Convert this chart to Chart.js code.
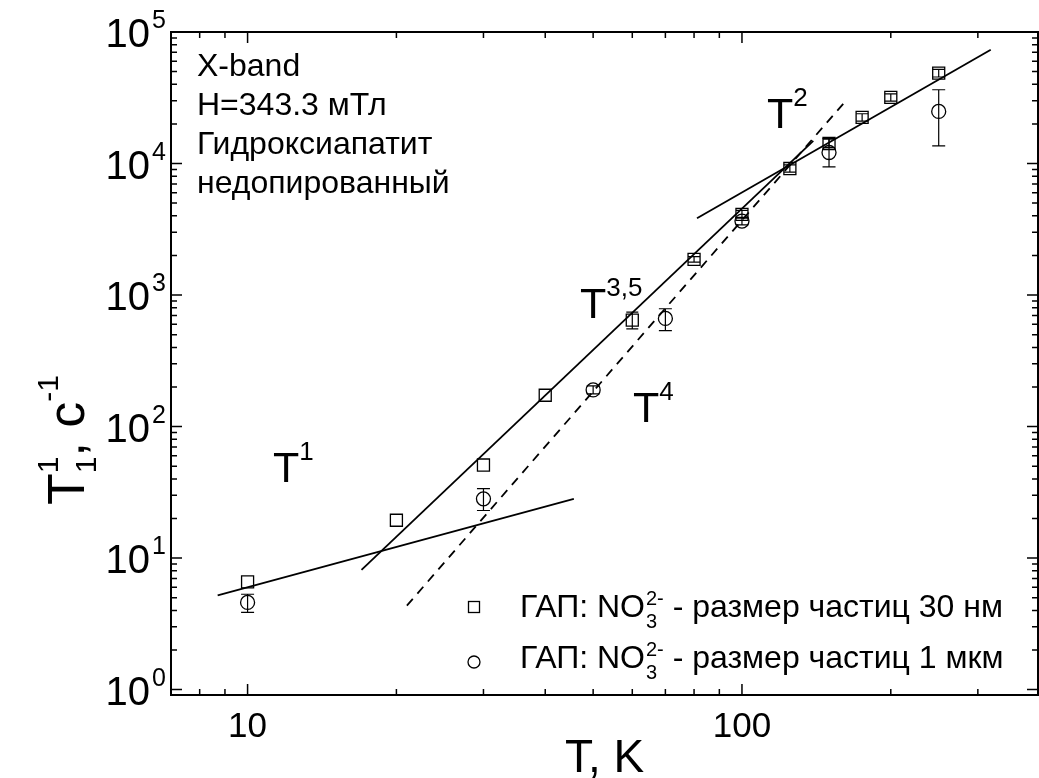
<!DOCTYPE html>
<html>
<head>
<meta charset="utf-8">
<script src="https://cdn.jsdelivr.net/npm/chart.js@4.4.1/dist/chart.umd.min.js"></script>
<style>
  body { margin: 0; background: #fff; }
  #wrap { width: 1039px; height: 778px; }
</style>
</head>
<body>
<div id="wrap"><canvas id="relaxChart" width="1039" height="778"></canvas></div>
<script>
// 30 nm particles (squares)
const temps30 = [10, 20, 30, 40, 60, 80, 100, 125, 150, 175, 200, 250];
const rate30 = [6.6, 19.4, 51, 173, 644, 1866, 4110, 9160, 14200, 22400, 31800, 48700];
const errLow30 = [null, null, null, null, 554, 1780, 3850, 8600, 13200, 21000, 29800, 45500];
const errHigh30 = [null, null, null, null, 741, 1960, 4400, 9750, 15300, 23900, 33900, 52000];

// 1 um particles (circles)
const temps1um = [10, 30, 50, 70, 100, 150, 250];
const rate1um = [4.6, 28.2, 190, 664, 3650, 12130, 24900];
const errLow1um = [3.87, 23.0, 177, 537, 3420, 9420, 13600];
const errHigh1um = [5.31, 33.7, 204, 787, 3900, 15500, 36400];

// power-law guide lines (end points)
const fitT1 = { t: [8.7, 45.7], r: [5.2, 28.2] };
const fitT35 = { t: [17.0, 139.4], r: [8.13, 14860] };
const fitT2 = { t: [81.1, 318.6], r: [3830, 73300] };
const fitT4 = { t: [21.0, 160.7], r: [4.35, 28800] };

// ticks
const xMajorTicks = [10, 100];
const xMinorTicks = [8, 9, 20, 30, 40, 50, 60, 70, 80, 90, 200, 300];
const yMajorTicks = [1, 10, 100, 1000, 10000, 100000];
const yMinorTicks = [];
for (let d = 0; d < 5; d++) {
    for (let m = 2; m <= 9; m++) yMinorTicks.push(m * Math.pow(10, d));
}

const legendLabels = ['размер частиц 30 нм', 'размер частиц 1 мкм'];
const infoLines = ['X-band', 'H=343.3 мТл', 'Гидроксиапатит', 'недопированный'];

const FONT = '"Liberation Sans", Arial, sans-serif';

function pts(xs, ys) {
    return xs.map((x, i) => ({ x: x, y: ys[i] }));
}

function font(size) {
    return size + 'px ' + FONT;
}

// draws text pieces one after another; pieces with stack:true share x with the next one
function drawRich(ctx, x, y, parts) {
    let cx = x;
    let stackW = 0;
    for (const p of parts) {
        ctx.font = font(p.size);
        ctx.fillText(p.t, cx + (p.dx || 0), y + (p.dy || 0));
        const w = ctx.measureText(p.t).width + (p.dx || 0);
        if (p.stack) {
            stackW = Math.max(stackW, w);
        } else {
            cx += Math.max(w, stackW);
            stackW = 0;
        }
    }
}

const errorBars = {
    id: 'errorBars',
    afterDatasetsDraw(chart) {
        const ctx = chart.ctx;
        const xs = chart.scales.x, ys = chart.scales.y;
        const sets = [
            { t: temps30, lo: errLow30, hi: errHigh30, cap: 6 },
            { t: temps1um, lo: errLow1um, hi: errHigh1um, cap: 6.5 }
        ];
        ctx.save();
        ctx.strokeStyle = '#000';
        ctx.lineWidth = 1.2;
        for (const s of sets) {
            s.t.forEach((t, i) => {
                if (s.lo[i] == null) return;
                const px = xs.getPixelForValue(t);
                const y1 = ys.getPixelForValue(s.lo[i]);
                const y2 = ys.getPixelForValue(s.hi[i]);
                ctx.beginPath();
                ctx.moveTo(px, y1); ctx.lineTo(px, y2);
                ctx.moveTo(px - s.cap, y1); ctx.lineTo(px + s.cap, y1);
                ctx.moveTo(px - s.cap, y2); ctx.lineTo(px + s.cap, y2);
                ctx.stroke();
            });
        }
        ctx.restore();
    }
};

const frameAndText = {
    id: 'frameAndText',
    afterDraw(chart) {
        const ctx = chart.ctx;
        const a = chart.chartArea;
        const xs = chart.scales.x, ys = chart.scales.y;
        ctx.save();
        ctx.strokeStyle = '#000';
        ctx.fillStyle = '#000';

        // frame
        ctx.lineWidth = 2;
        ctx.strokeRect(a.left, a.top, a.right - a.left, a.bottom - a.top);

        // inward ticks on all sides
        ctx.lineWidth = 1.5;
        ctx.beginPath();
        const xt = (v, len) => {
            const px = xs.getPixelForValue(v);
            ctx.moveTo(px, a.bottom); ctx.lineTo(px, a.bottom - len);
            ctx.moveTo(px, a.top); ctx.lineTo(px, a.top + len);
        };
        const yt = (v, len) => {
            const py = ys.getPixelForValue(v);
            ctx.moveTo(a.left, py); ctx.lineTo(a.left + len, py);
            ctx.moveTo(a.right, py); ctx.lineTo(a.right - len, py);
        };
        xMajorTicks.forEach(v => xt(v, 11));
        xMinorTicks.forEach(v => xt(v, 6));
        yMajorTicks.forEach(v => yt(v, 11));
        yMinorTicks.forEach(v => yt(v, 6));
        ctx.stroke();

        // x tick labels
        ctx.textBaseline = 'alphabetic';
        ctx.textAlign = 'center';
        ctx.font = font(35);
        xMajorTicks.forEach(v => ctx.fillText(String(v), xs.getPixelForValue(v), 737));

        // y tick labels 10^n
        yMajorTicks.forEach(v => {
            const py = ys.getPixelForValue(v);
            const n = Math.round(Math.log10(v));
            ctx.textAlign = 'right';
            ctx.font = font(40);
            ctx.fillText('10', 150, py + 15);
            ctx.textAlign = 'left';
            ctx.font = font(25);
            ctx.fillText(String(n), 152, py - 4);
        });

        // axis titles
        ctx.textAlign = 'center';
        ctx.font = font(46);
        ctx.fillText('T, K', (a.left + a.right) / 2, 772);

        ctx.save();
        ctx.translate(84, 505);
        ctx.rotate(-Math.PI / 2);
        ctx.textAlign = 'left';
        drawRich(ctx, 0, 0, [
            { t: 'T', size: 52 },
            { t: '1', size: 30, dy: -26, stack: true },
            { t: '1', size: 30, dy: 12 },
            { t: ', c', size: 52 },
            { t: '-1', size: 30, dy: -26 }
        ]);
        ctx.restore();

        // info block
        ctx.textAlign = 'left';
        ctx.font = font(32);
        infoLines.forEach((s, i) => ctx.fillText(s, 197, 76 + i * 39));

        // power-law labels
        const powLabel = (x, y, p) => drawRich(ctx, x, y, [
            { t: 'T', size: 43 },
            { t: p, size: 26, dy: -22 }
        ]);
        powLabel(273, 482, '1');
        powLabel(580, 318, '3,5');
        powLabel(633, 422, '4');
        powLabel(767, 128, '2');

        // legend
        ctx.lineWidth = 1.3;
        ctx.strokeRect(474 - 5.5, 607 - 5.5, 11, 11);
        ctx.beginPath();
        ctx.arc(474, 662, 6, 0, Math.PI * 2);
        ctx.stroke();
        [617, 668].forEach((by, i) => {
            drawRich(ctx, 520, by, [
                { t: 'ГАП: NO', size: 32 },
                { t: '3', size: 20, dy: 11, dx: 1, stack: true },
                { t: '2-', size: 20, dy: -12, dx: 1 },
                { t: ' - ' + legendLabels[i], size: 32 }
            ]);
        });
        ctx.restore();
    }
};

const lineSet = (fit, dash) => ({
    data: pts(fit.t, fit.r),
    showLine: true,
    borderColor: '#000',
    borderWidth: 1.8,
    borderDash: dash,
    pointRadius: 0,
    fill: false
});

const ctx = document.getElementById('relaxChart').getContext('2d');
new Chart(ctx, {
    type: 'scatter',
    data: {
        datasets: [
            lineSet(fitT1, []),
            lineSet(fitT35, []),
            lineSet(fitT2, []),
            lineSet(fitT4, [9, 7]),
            {
                data: pts(temps30, rate30),
                pointStyle: 'rect',
                pointRadius: 8.5,
                borderColor: '#000',
                backgroundColor: 'rgba(0,0,0,0)',
                pointBorderWidth: 1.3
            },
            {
                data: pts(temps1um, rate1um),
                pointStyle: 'circle',
                pointRadius: 7,
                borderColor: '#000',
                backgroundColor: 'rgba(0,0,0,0)',
                pointBorderWidth: 1.3
            }
        ]
    },
    options: {
        responsive: false,
        animation: false,
        layout: { autoPadding: false, padding: { left: 171, right: 1, top: 32, bottom: 83 } },
        plugins: { legend: { display: false }, tooltip: { enabled: false } },
        scales: {
            x: { type: 'logarithmic', min: 7, max: 397, display: false },
            y: { type: 'logarithmic', min: 0.91, max: 100000, display: false }
        }
    },
    plugins: [errorBars, frameAndText]
});
</script>
</body>
</html>
